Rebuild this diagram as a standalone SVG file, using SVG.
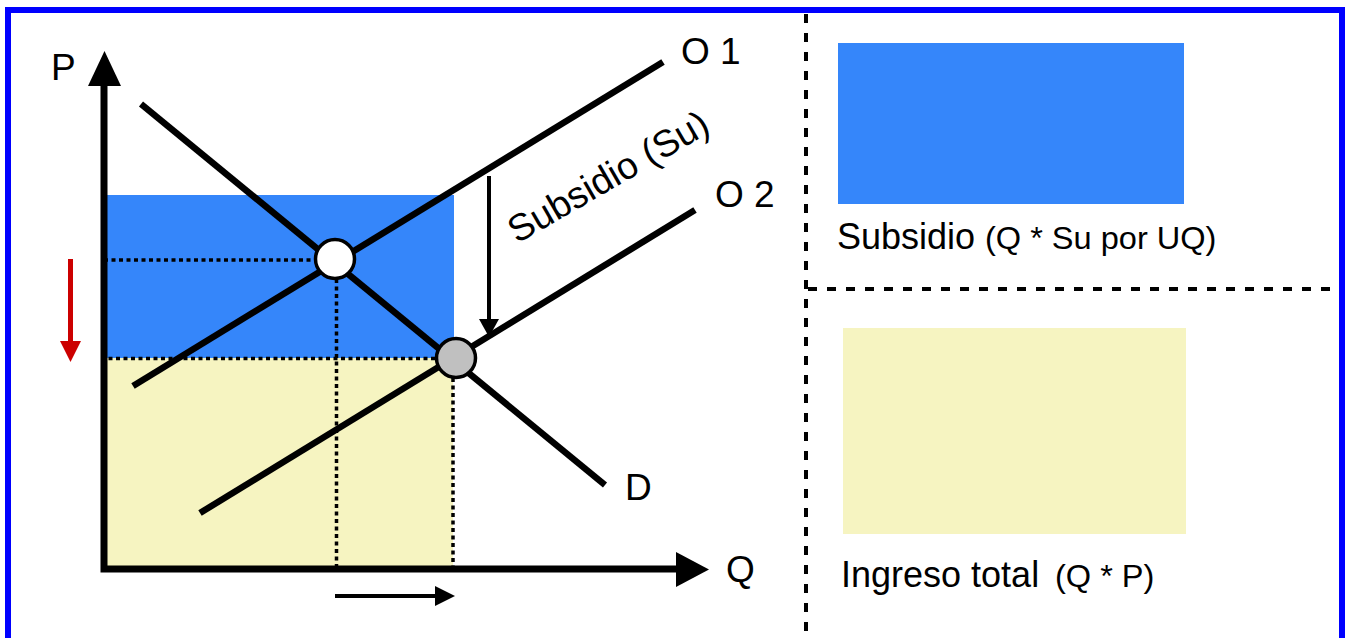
<svg xmlns="http://www.w3.org/2000/svg" width="1351" height="638" viewBox="0 0 1351 638">
<style>
.lbl{font-family:"Liberation Sans",Arial,sans-serif;fill:#000}
.curve{stroke:#000;stroke-width:6.5;fill:none}
.dot{stroke:#000;stroke-width:3.5;stroke-dasharray:4 3.5;fill:none}
.dash{stroke:#000;stroke-width:4;stroke-dasharray:9 10;fill:none}
</style>
<rect x="8" y="10" width="1334" height="700" fill="#fff" stroke="#0000ff" stroke-width="6"/>
<g id="areas">
<rect x="104" y="358" width="349" height="211" fill="#f6f4c1"/>
<rect x="104" y="195" width="350" height="163" fill="#3586fa"/>
</g>
<g id="guides">
<line class="dot" x1="104" y1="260" x2="316" y2="260"/>
<line class="dot" x1="101" y1="358.5" x2="437" y2="358.5"/>
<line class="dot" x1="336.5" y1="279" x2="336.5" y2="566"/>
<line class="dot" x1="453" y1="378" x2="453" y2="566"/>
</g>
<g id="connectors">
<line id="demand" class="curve" x1="141" y1="104" x2="605" y2="485"/>
<line id="supply1" class="curve" x1="133" y1="386" x2="663" y2="62"/>
<line id="supply2" class="curve" x1="200" y1="513" x2="695" y2="210"/>
<line x1="489" y1="176" x2="489" y2="322" stroke="#000" stroke-width="4"/>
<polygon points="479,319 499,319 489,337" fill="#000"/>
<line x1="70.5" y1="259" x2="70.5" y2="343" stroke="#cc0000" stroke-width="5"/>
<polygon points="60,341 81,341 70.5,362" fill="#cc0000"/>
<line x1="335" y1="596" x2="437" y2="596" stroke="#000" stroke-width="4"/>
<polygon points="435,586 435,606 455,596" fill="#000"/>
</g>
<g id="axes">
<path d="M104,86 V569 H678" stroke="#000" stroke-width="7" fill="none" stroke-linejoin="miter"/>
<polygon points="88,86 121,86 104.5,51" fill="#000"/>
<polygon points="676,552 676,587 709,569.5" fill="#000"/>
</g>
<g id="eq1"><circle cx="335" cy="259" r="19.5" fill="#fff" stroke="#000" stroke-width="3.5"/></g>
<g id="eq2"><circle cx="456" cy="358" r="19.5" fill="#c0c0c0" stroke="#000" stroke-width="3.5"/></g>
<g id="labels">
<text class="lbl" x="51" y="80" font-size="37">P</text>
<text class="lbl" x="681" y="64" font-size="37">O 1</text>
<text class="lbl" x="715" y="207" font-size="37">O 2</text>
<text class="lbl" x="625" y="500" font-size="37">D</text>
<text class="lbl" x="726" y="582" font-size="37">Q</text>
<text class="lbl" font-size="37.5" transform="translate(517,244) rotate(-30)">Subsidio (Su)</text>
</g>
<g id="separators">
<line class="dash" x1="806" y1="14" x2="806" y2="638"/>
<line class="dash" x1="808" y1="289" x2="1336" y2="289"/>
</g>
<g id="legend-subsidio">
<rect x="838" y="43" width="346" height="161" fill="#3586fa"/>
<text class="lbl" x="837" y="249" font-size="36">Subsidio</text>
<text class="lbl" font-size="31" transform="translate(985,249) scale(1.05,1)">(Q * Su por UQ)</text>
</g>
<g id="legend-ingreso">
<rect x="843" y="328" width="343" height="206" fill="#f6f4c1"/>
<text class="lbl" x="841" y="587" font-size="36">Ingreso total</text>
<text class="lbl" font-size="31" transform="translate(1055,587) scale(1.05,1)">(Q * P)</text>
</g>
</svg>
